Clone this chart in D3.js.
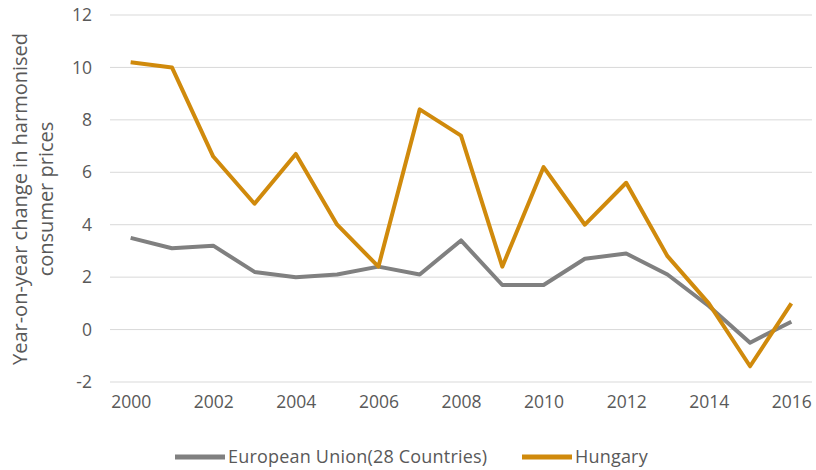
<!DOCTYPE html>
<html><head><meta charset="utf-8">
<script src="https://cdn.jsdelivr.net/npm/d3@7"></script>
<style>body{margin:0;background:#fff}svg{display:block}</style>
</head><body>
<svg id="c" width="816" height="470"></svg>
<script>
const years = [2000,2001,2002,2003,2004,2005,2006,2007,2008,2009,2010,2011,2012,2013,2014,2015,2016];
const euValues = [3.5,3.1,3.2,2.2,2.0,2.1,2.4,2.1,3.4,1.7,1.7,2.7,2.9,2.1,0.9,-0.5,0.3];
const huValues = [10.2,10.0,6.6,4.8,6.7,4.0,2.4,8.4,7.4,2.4,6.2,4.0,5.6,2.8,1.0,-1.4,1.0];
const yTicks = [-2,0,2,4,6,8,10,12];
const xTickLabels = [2000,2002,2004,2006,2008,2010,2012,2014,2016];
const seriesNames = ["European Union(28 Countries)","Hungary"];
const seriesColors = ["#808080","#d08a0c"];

(function(){
const font = "'Open Sans', sans-serif";
const svg = d3.select("#c");
const pLeft = 110, pRight = 812, pTop = 15, pBottom = 382;
const x = d3.scalePoint().domain(years).range([pLeft, pRight]).padding(0.5);
const y = d3.scaleLinear().domain([-2,12]).range([pBottom, pTop]);

svg.append("g").selectAll("line").data(yTicks).join("line")
  .attr("x1", pLeft).attr("x2", pRight)
  .attr("y1", d=>y(d)).attr("y2", d=>y(d))
  .attr("stroke", "#d9d9d9").attr("stroke-width", 1);

const ya = svg.append("g").attr("transform", `translate(${pLeft-18},0)`)
  .call(d3.axisLeft(y).tickValues(yTicks).tickSize(0).tickPadding(0).tickFormat(d=>String(d)));
ya.select(".domain").remove();
ya.selectAll("text").attr("fill","#595959").style("font-family",font).style("font-size","17.5px");

const xa = svg.append("g").attr("transform", `translate(0,${pBottom+14})`)
  .call(d3.axisBottom(x).tickValues(xTickLabels).tickSize(0).tickPadding(0).tickFormat(d=>String(d)));
xa.select(".domain").remove();
xa.selectAll("text").attr("fill","#595959").style("font-family",font).style("font-size","17.5px");

const line = d3.line().x((d,i)=>x(years[i])).y(d=>y(d));
[euValues, huValues].forEach((vals,k)=>{
  svg.append("path").datum(vals).attr("d", line)
    .attr("fill","none").attr("stroke",seriesColors[k]).attr("stroke-width",4)
    .attr("stroke-linejoin","round");
});

const yt = svg.append("text")
  .attr("fill","#595959").style("font-family",font).style("font-size","20px")
  .attr("text-anchor","middle");
yt.append("tspan").attr("x",0).attr("y",0).text("Year-on-year change in harmonised");
yt.append("tspan").attr("x",0).attr("y",26).text("consumer prices");
yt.attr("transform","translate(27,199) rotate(-90)");

const legX = [175, 522];
seriesNames.forEach((n,k)=>{
  const g = svg.append("g").attr("transform",`translate(${legX[k]},457)`);
  g.append("line").attr("x1",0).attr("x2",50).attr("y1",0).attr("y2",0)
    .attr("stroke",seriesColors[k]).attr("stroke-width",5);
  g.append("text").attr("x",53).attr("y",6).attr("fill","#595959")
    .style("font-family",font).style("font-size","18px").style("letter-spacing","0.2px").text(n);
});
})();
</script>
</body></html>
